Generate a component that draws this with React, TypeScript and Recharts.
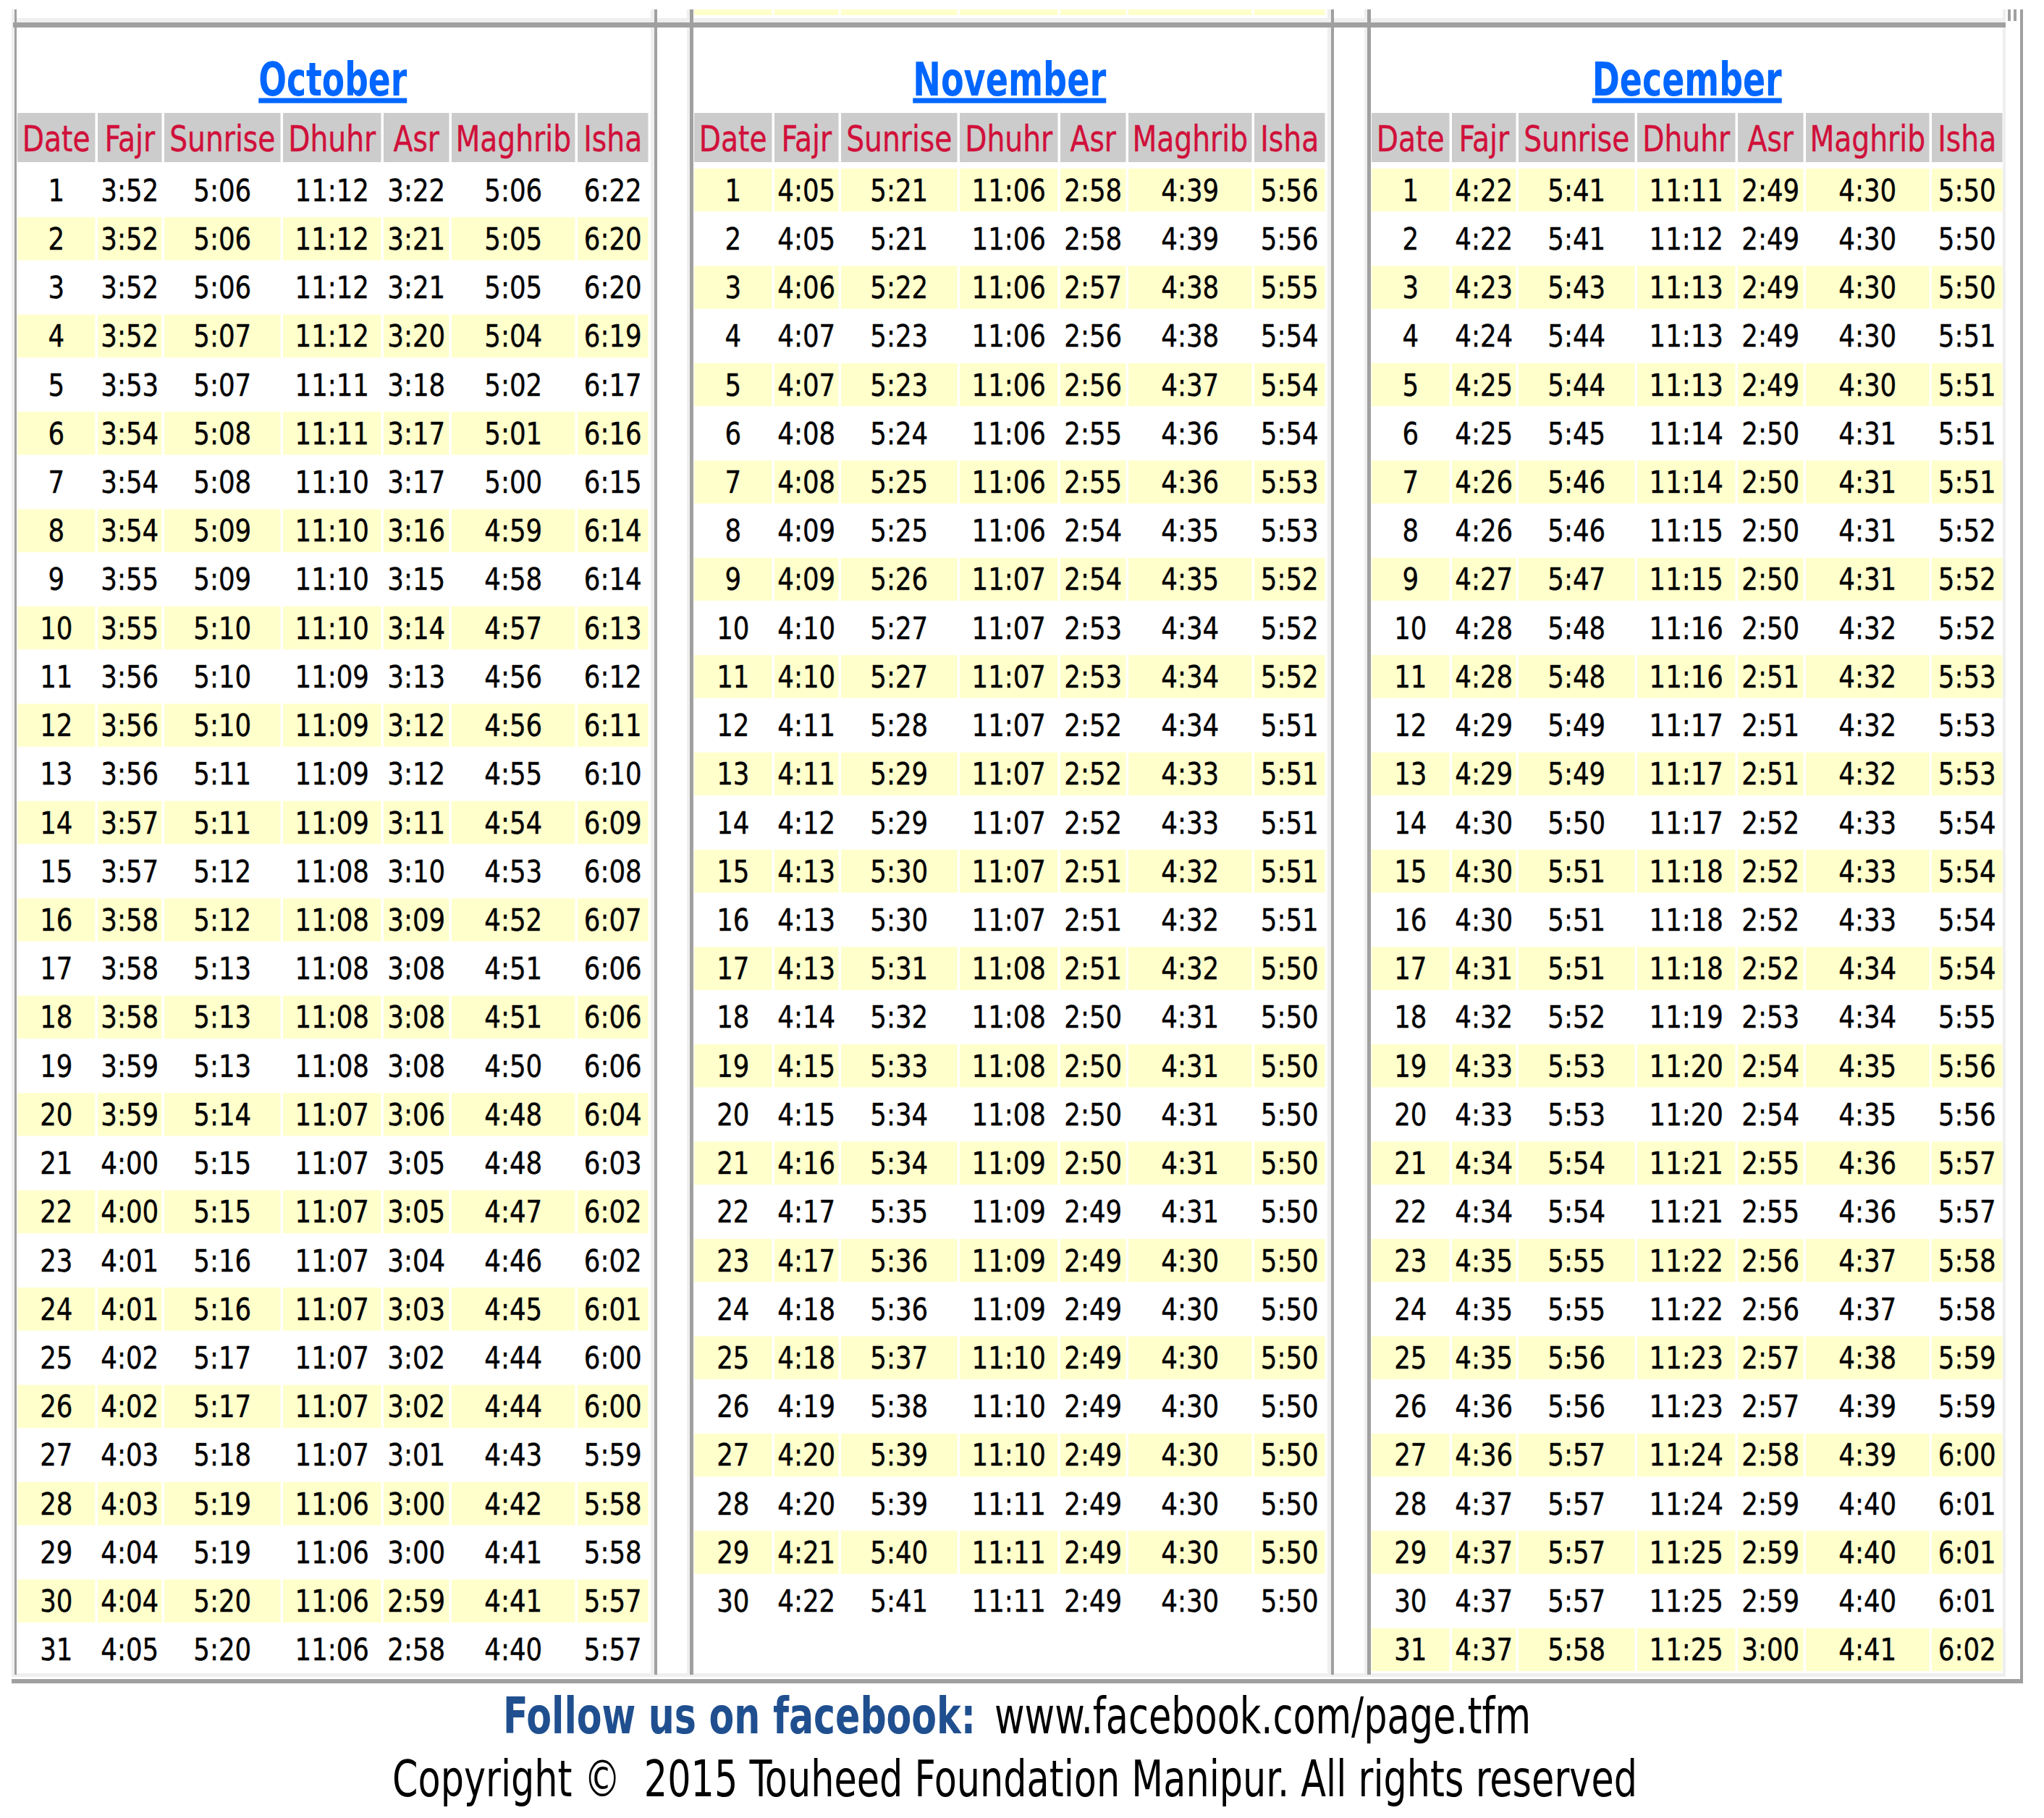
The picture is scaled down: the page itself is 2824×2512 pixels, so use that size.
import React from 'react';
import { ScatterChart, Scatter, XAxis, YAxis } from 'recharts';

// ---------- DATA ----------
const COLUMNS = ['Date', 'Fajr', 'Sunrise', 'Dhuhr', 'Asr', 'Maghrib', 'Isha'];
const MONTH_NAMES = ['October', 'November', 'December'];

const octFajr = ['3:52','3:52','3:52','3:52','3:53','3:54','3:54','3:54','3:55','3:55','3:56','3:56','3:56','3:57','3:57','3:58','3:58','3:58','3:59','3:59','4:00','4:00','4:01','4:01','4:02','4:02','4:03','4:03','4:04','4:04','4:05'];
const octSunrise = ['5:06','5:06','5:06','5:07','5:07','5:08','5:08','5:09','5:09','5:10','5:10','5:10','5:11','5:11','5:12','5:12','5:13','5:13','5:13','5:14','5:15','5:15','5:16','5:16','5:17','5:17','5:18','5:19','5:19','5:20','5:20'];
const octDhuhr = ['11:12','11:12','11:12','11:12','11:11','11:11','11:10','11:10','11:10','11:10','11:09','11:09','11:09','11:09','11:08','11:08','11:08','11:08','11:08','11:07','11:07','11:07','11:07','11:07','11:07','11:07','11:07','11:06','11:06','11:06','11:06'];
const octAsr = ['3:22','3:21','3:21','3:20','3:18','3:17','3:17','3:16','3:15','3:14','3:13','3:12','3:12','3:11','3:10','3:09','3:08','3:08','3:08','3:06','3:05','3:05','3:04','3:03','3:02','3:02','3:01','3:00','3:00','2:59','2:58'];
const octMaghrib = ['5:06','5:05','5:05','5:04','5:02','5:01','5:00','4:59','4:58','4:57','4:56','4:56','4:55','4:54','4:53','4:52','4:51','4:51','4:50','4:48','4:48','4:47','4:46','4:45','4:44','4:44','4:43','4:42','4:41','4:41','4:40'];
const octIsha = ['6:22','6:20','6:20','6:19','6:17','6:16','6:15','6:14','6:14','6:13','6:12','6:11','6:10','6:09','6:08','6:07','6:06','6:06','6:06','6:04','6:03','6:02','6:02','6:01','6:00','6:00','5:59','5:58','5:58','5:57','5:57'];

const novFajr = ['4:05','4:05','4:06','4:07','4:07','4:08','4:08','4:09','4:09','4:10','4:10','4:11','4:11','4:12','4:13','4:13','4:13','4:14','4:15','4:15','4:16','4:17','4:17','4:18','4:18','4:19','4:20','4:20','4:21','4:22'];
const novSunrise = ['5:21','5:21','5:22','5:23','5:23','5:24','5:25','5:25','5:26','5:27','5:27','5:28','5:29','5:29','5:30','5:30','5:31','5:32','5:33','5:34','5:34','5:35','5:36','5:36','5:37','5:38','5:39','5:39','5:40','5:41'];
const novDhuhr = ['11:06','11:06','11:06','11:06','11:06','11:06','11:06','11:06','11:07','11:07','11:07','11:07','11:07','11:07','11:07','11:07','11:08','11:08','11:08','11:08','11:09','11:09','11:09','11:09','11:10','11:10','11:10','11:11','11:11','11:11'];
const novAsr = ['2:58','2:58','2:57','2:56','2:56','2:55','2:55','2:54','2:54','2:53','2:53','2:52','2:52','2:52','2:51','2:51','2:51','2:50','2:50','2:50','2:50','2:49','2:49','2:49','2:49','2:49','2:49','2:49','2:49','2:49'];
const novMaghrib = ['4:39','4:39','4:38','4:38','4:37','4:36','4:36','4:35','4:35','4:34','4:34','4:34','4:33','4:33','4:32','4:32','4:32','4:31','4:31','4:31','4:31','4:31','4:30','4:30','4:30','4:30','4:30','4:30','4:30','4:30'];
const novIsha = ['5:56','5:56','5:55','5:54','5:54','5:54','5:53','5:53','5:52','5:52','5:52','5:51','5:51','5:51','5:51','5:51','5:50','5:50','5:50','5:50','5:50','5:50','5:50','5:50','5:50','5:50','5:50','5:50','5:50','5:50'];

const decFajr = ['4:22','4:22','4:23','4:24','4:25','4:25','4:26','4:26','4:27','4:28','4:28','4:29','4:29','4:30','4:30','4:30','4:31','4:32','4:33','4:33','4:34','4:34','4:35','4:35','4:35','4:36','4:36','4:37','4:37','4:37','4:37'];
const decSunrise = ['5:41','5:41','5:43','5:44','5:44','5:45','5:46','5:46','5:47','5:48','5:48','5:49','5:49','5:50','5:51','5:51','5:51','5:52','5:53','5:53','5:54','5:54','5:55','5:55','5:56','5:56','5:57','5:57','5:57','5:57','5:58'];
const decDhuhr = ['11:11','11:12','11:13','11:13','11:13','11:14','11:14','11:15','11:15','11:16','11:16','11:17','11:17','11:17','11:18','11:18','11:18','11:19','11:20','11:20','11:21','11:21','11:22','11:22','11:23','11:23','11:24','11:24','11:25','11:25','11:25'];
const decAsr = ['2:49','2:49','2:49','2:49','2:49','2:50','2:50','2:50','2:50','2:50','2:51','2:51','2:51','2:52','2:52','2:52','2:52','2:53','2:54','2:54','2:55','2:55','2:56','2:56','2:57','2:57','2:58','2:59','2:59','2:59','3:00'];
const decMaghrib = ['4:30','4:30','4:30','4:30','4:30','4:31','4:31','4:31','4:31','4:32','4:32','4:32','4:32','4:33','4:33','4:33','4:34','4:34','4:35','4:35','4:36','4:36','4:37','4:37','4:38','4:39','4:39','4:40','4:40','4:40','4:41'];
const decIsha = ['5:50','5:50','5:50','5:51','5:51','5:51','5:51','5:52','5:52','5:52','5:53','5:53','5:53','5:54','5:54','5:54','5:54','5:55','5:56','5:56','5:57','5:57','5:58','5:58','5:59','5:59','6:00','6:01','6:01','6:01','6:02'];

const FOOTER_LEAD = 'Follow us on facebook:';
const FOOTER_URL = 'www.facebook.com/page.tfm';
const COPYRIGHT = 'Copyright \u00A9  2015 Touheed Foundation Manipur. All rights reserved';

const MONTH_TIMES = [
  [octFajr, octSunrise, octDhuhr, octAsr, octMaghrib, octIsha],
  [novFajr, novSunrise, novDhuhr, novAsr, novMaghrib, novIsha],
  [decFajr, decSunrise, decDhuhr, decAsr, decMaghrib, decIsha],
];

// ---------- LAYOUT / STYLE ----------
const FONT = "'DejaVu Sans Condensed', 'DejaVu Sans', sans-serif";
const COL_BANDS = [111, 92, 164, 139, 94, 174, 101];
const GAP = 3.5;
const TOTAL = COL_BANDS.reduce((a, b) => a + b, 0);
const COL_STARTS = COL_BANDS.map((_, i) => COL_BANDS.slice(0, i).reduce((a, b) => a + b, 0));
const COL_CENTERS = COL_BANDS.map((b, i) => COL_STARTS[i] + (b - GAP) / 2);
const PANEL_X = [24, 959, 1895];
const STRIPE_EVEN = [true, false, false];
const TITLE_W = [205, 267, 262];
const CHART_H = 2313;
const PLOT_TOP = 229;
const AXIS_H = 60;
const CELL_H = 59.4;
const HEADER_TOP = 156;
const HEADER_H = 68;
const BLUE = '#0066ff';
const RED = '#d0103a';
const YELLOW = '#ffffcc';
const DARK = '#a0a0a0';
const LIGHT = '#efefef';

const HeaderTick = (props: any) => {
  const { x, payload } = props;
  const idx = COL_CENTERS.findIndex((c) => Math.abs(c - payload.value) < 0.01);
  if (idx < 0) return null;
  const w = COL_BANDS[idx] - GAP;
  return (
    <g>
      <rect x={x - w / 2} y={HEADER_TOP} width={w} height={HEADER_H} fill="#cccccc" />
      <text
        transform={`translate(${x},209) scale(0.89,1)`}
        textAnchor="middle"
        fontSize={49}
        fontFamily={FONT}
        fontStretch="condensed"
        fill={RED}
        stroke={RED}
        strokeWidth={0.4}
      >
        {COLUMNS[idx]}
      </text>
    </g>
  );
};

const makeCellShape = (stripeEven: boolean) => (props: any) => {
  const { cx, cy, payload } = props;
  if (cx == null || cy == null || !payload) return <g />;
  const w = COL_BANDS[payload.col] - GAP;
  const yellow = (payload.y % 2 === 0) === stripeEven;
  return (
    <g>
      {yellow && <rect x={cx - w / 2} y={cy - CELL_H / 2} width={w} height={CELL_H} fill={YELLOW} />}
      <text
        transform={`translate(${cx},${cy + 15}) scale(0.93,1)`}
        textAnchor="middle"
        fontSize={42.5}
        fontFamily={FONT}
        fontStretch="condensed"
        fill="#000"
        stroke="#000"
        strokeWidth={0.4}
      >
        {payload.text}
      </text>
    </g>
  );
};

const buildCells = (times: string[][]) => {
  const cells: { x: number; y: number; col: number; text: string }[] = [];
  const n = times[0].length;
  for (let d = 0; d < n; d++) {
    cells.push({ x: COL_CENTERS[0], y: d + 1, col: 0, text: String(d + 1) });
    for (let c = 0; c < times.length; c++) {
      cells.push({ x: COL_CENTERS[c + 1], y: d + 1, col: c + 1, text: times[c][d] });
    }
  }
  return cells;
};

const MonthChart = ({ m }: { m: number }) => (
  <div style={{ position: 'absolute', left: PANEL_X[m], top: 0, width: TOTAL, height: CHART_H }}>
    <ScatterChart
      width={TOTAL}
      height={CHART_H}
      margin={{ top: PLOT_TOP - AXIS_H, right: 0, bottom: 0, left: 0 }}
    >
      <XAxis
        type="number"
        dataKey="x"
        orientation="top"
        domain={[0, TOTAL]}
        allowDataOverflow
        ticks={COL_CENTERS}
        interval={0}
        height={AXIS_H}
        axisLine={false}
        tickLine={false}
        tick={(p: any) => <HeaderTick {...p} />}
      />
      <YAxis type="number" dataKey="y" domain={[0.5, 31.5]} allowDataOverflow reversed hide width={0} />
      <Scatter data={buildCells(MONTH_TIMES[m])} shape={makeCellShape(STRIPE_EVEN[m])} isAnimationActive={false} />
    </ScatterChart>
  </div>
);

const FooterText = ({ x, y, w, bold, color, text }: { x: number; y: number; w: number; bold?: boolean; color: string; text: string }) => (
  <text
    transform={`translate(${x},${y}) scale(1,1.25)`}
    x={0}
    y={0}
    textLength={w}
    lengthAdjust="spacingAndGlyphs"
    fontSize={56}
    fontWeight={bold ? 'bold' : 'normal'}
    fontFamily={FONT}
    fontStretch="condensed"
    fill={color}
    style={{ whiteSpace: 'pre' }}
  >
    {text}
  </text>
);

const Frame = () => {
  const lights: [number, number][] = [[16, 4], [899, 5], [949, 4], [1834, 5], [1885, 4], [2767, 4]];
  const darks: [number, number][] = [[20, 3], [904, 4], [953, 5], [1839, 4], [1889, 5]];
  return (
    <svg width={2824} height={2512} style={{ position: 'absolute', left: 0, top: 0 }}>
      {/* remnant of the table above */}
      {COL_BANDS.map((b, i) => (
        <rect key={'rem' + i} x={PANEL_X[1] + COL_STARTS[i]} y={13} width={b - GAP} height={8} fill={YELLOW} />
      ))}
      <rect x={23} y={25} width={2748} height={6} fill={LIGHT} />
      <rect x={20} y={2312} width={2751} height={5} fill={LIGHT} />
      {lights.map(([x, w], i) => (
        <rect key={'l' + i} x={x} y={13} width={w} height={2304} fill={LIGHT} />
      ))}
      {darks.map(([x, w], i) => (
        <rect key={'d' + i} x={x} y={13} width={w} height={2301} fill={DARK} />
      ))}
      <rect x={2774} y={13} width={4} height={16} fill={DARK} />
      <rect x={2782} y={13} width={4} height={16} fill={DARK} />
      <rect x={2791} y={13} width={4} height={2313} fill={DARK} />
      <rect x={18} y={31} width={2753} height={7} fill={DARK} />
      <rect x={16} y={2320} width={2779} height={6} fill={DARK} />
      {MONTH_NAMES.map((name, m) => {
        const cx = PANEL_X[m] + (TOTAL - GAP) / 2;
        const w = TITLE_W[m];
        return (
          <g key={name}>
            <text
              x={cx - w / 2}
              y={132}
              textLength={w}
              lengthAdjust="spacingAndGlyphs"
              fontSize={64}
              fontWeight="bold"
              fontFamily={FONT}
              fontStretch="condensed"
              fill={BLUE}
            >
              {name}
            </text>
            <rect x={cx - w / 2} y={135.5} width={w} height={7} fill={BLUE} />
          </g>
        );
      })}
      <FooterText x={695} y={2395} w={653} bold color="#1f4f8f" text={FOOTER_LEAD} />
      <FooterText x={1374} y={2395} w={741} color="#000" text={FOOTER_URL} />
      <FooterText x={542} y={2482} w={1720} color="#000" text={COPYRIGHT} />
    </svg>
  );
};

export default function App() {
  return (
    <div style={{ position: 'absolute', left: 0, top: 0, width: 2824, height: 2512, background: '#fff' }}>
      <Frame />
      {MONTH_NAMES.map((_, m) => (
        <MonthChart key={m} m={m} />
      ))}
    </div>
  );
}
